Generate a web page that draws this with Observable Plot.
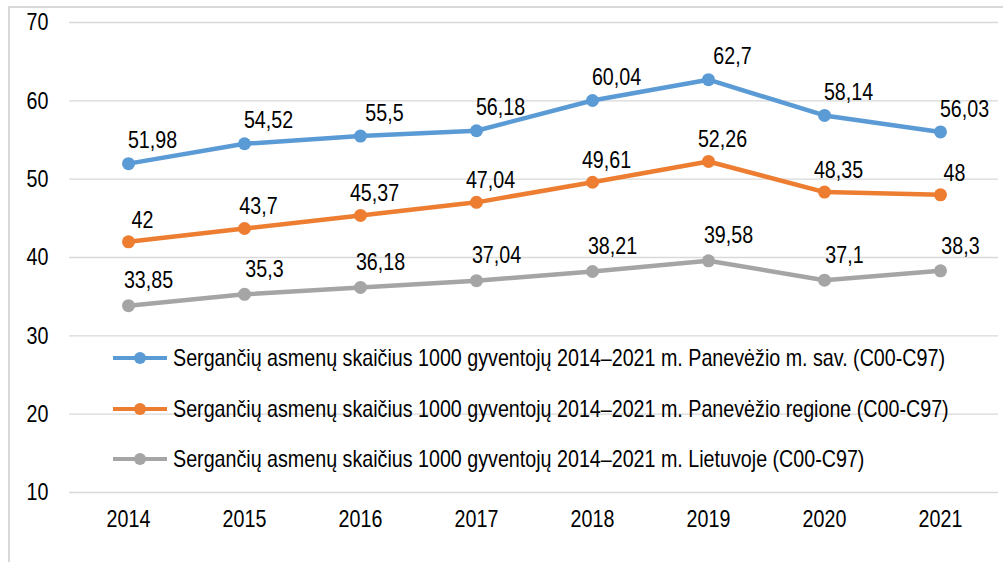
<!DOCTYPE html>
<html>
<head>
<meta charset="utf-8">
<script src="https://cdn.jsdelivr.net/npm/d3@7"></script>
<script src="https://cdn.jsdelivr.net/npm/@observablehq/plot@0.6"></script>
<style>
  html, body { margin: 0; padding: 0; background: #fff; overflow: hidden; }
  #wrap { position: relative; width: 1003px; height: 562px; overflow: hidden; }
  #frame { position: absolute; left: 8px; top: 6px; width: 1010px; height: 580px; border: 2px solid #d9d9d9; box-sizing: border-box; }
  #chart { position: absolute; left: 0; top: 0; }
  #legend { position: absolute; left: 113px; top: 0; font-family: "Liberation Sans", Arial, sans-serif; font-size: 24px; color: #000; }
  .row { position: absolute; left: 0; white-space: nowrap; display: flex; align-items: center; height: 30px; }
  .row svg { margin-right: 6px; flex: none; }
  .row span { display: inline-block; transform: scaleX(0.82); transform-origin: left center; }
</style>
</head>
<body>
<div id="wrap">
  <div id="frame"></div>
  <div id="chart"></div>
  <div id="legend"></div>
</div>
<script>
const years = [2014, 2015, 2016, 2017, 2018, 2019, 2020, 2021];
const panevezioSav = [51.98, 54.52, 55.5, 56.18, 60.04, 62.7, 58.14, 56.03];
const panevezioRegion = [42, 43.7, 45.37, 47.04, 49.61, 52.26, 48.35, 48];
const lietuva = [33.85, 35.3, 36.18, 37.04, 38.21, 39.58, 37.1, 38.3];
const seriesNames = [
  "Sergančių asmenų skaičius 1000 gyventojų 2014–2021 m. Panevėžio m. sav. (C00-C97)",
  "Sergančių asmenų skaičius 1000 gyventojų 2014–2021 m. Panevėžio regione (C00-C97)",
  "Sergančių asmenų skaičius 1000 gyventojų 2014–2021 m. Lietuvoje (C00-C97)"
];
const seriesValues = [panevezioSav, panevezioRegion, lietuva];
const colors = ["#5B9BD5", "#ED7D31", "#A5A5A5"];
const yTicks = [10, 20, 30, 40, 50, 60, 70];

const FONT = '"Liberation Sans", Arial, sans-serif';
const NARROW = 0.82;

const data = [];
seriesNames.forEach((s, i) => {
  years.forEach((yr, j) => data.push({ year: yr, value: seriesValues[i][j], series: s }));
});
const fmt = v => String(v).replace(".", ",");

const labelOffsets = [
  { dx: 24, dy: -23 },
  { dx: 14, dy: -22 },
  { dx: 20, dy: -25 }
];

const marks = [
  Plot.ruleY(yTicks, { stroke: "#d9d9d9", strokeWidth: 1.3 }),
  Plot.axisY(yTicks, { tickSize: 0, tickPadding: 21, fontSize: 24, fontFamily: FONT, label: null }),
  Plot.axisX(years, { tickSize: 0, tickPadding: 17, fontSize: 24, fontFamily: FONT, label: null, tickFormat: d => String(d) }),
  Plot.line(data, { x: "year", y: "value", z: "series", stroke: "series", strokeWidth: 4.5 }),
  Plot.dot(data, { x: "year", y: "value", fill: "series", r: 6.5 })
];
seriesNames.forEach((s, i) => {
  marks.push(Plot.text(data.filter(d => d.series === s), {
    x: "year", y: "value", text: d => fmt(d.value),
    dx: labelOffsets[i].dx, dy: labelOffsets[i].dy,
    fontSize: 24, fontFamily: FONT, fill: "#000", textAnchor: "middle"
  }));
});

const chart = Plot.plot({
  width: 1003,
  height: 562,
  marginLeft: 69,
  marginRight: 5,
  marginTop: 22,
  marginBottom: 70,
  style: { background: "transparent", fontFamily: FONT, color: "#000" },
  x: { type: "point", domain: years, padding: 0.5 },
  y: { domain: [10, 70] },
  color: { domain: seriesNames, range: colors },
  marks
});
document.getElementById("chart").appendChild(chart);

// condense all texts horizontally around their anchor (Arial Narrow look)
chart.querySelectorAll("text").forEach(t => {
  const tr = t.getAttribute("transform");
  if (tr && tr.includes("translate")) {
    t.setAttribute("transform", tr + ` scale(${NARROW},1)`);
  } else {
    const x = +(t.getAttribute("x") || 0), y = +(t.getAttribute("y") || 0);
    t.removeAttribute("x"); t.removeAttribute("y");
    t.setAttribute("transform", `translate(${x},${y})${tr ? " " + tr : ""} scale(${NARROW},1)`);
  }
});

const legend = document.getElementById("legend");
const rowTops = [343, 394, 444];
seriesNames.forEach((s, i) => {
  const row = document.createElement("div");
  row.className = "row";
  row.style.top = rowTops[i] + "px";
  row.innerHTML = `<svg width="54" height="14"><line x1="0" y1="7" x2="54" y2="7" stroke="${colors[i]}" stroke-width="4"/><circle cx="27" cy="7" r="6" fill="${colors[i]}"/></svg><span>${s}</span>`;
  legend.appendChild(row);
});
</script>
</body>
</html>
